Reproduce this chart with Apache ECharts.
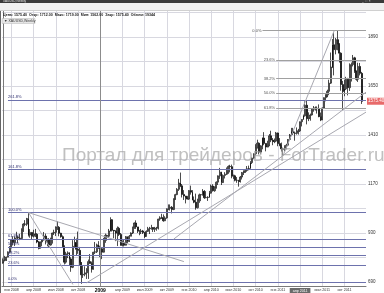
<!DOCTYPE html>
<html><head><meta charset="utf-8">
<script src="https://cdn.jsdelivr.net/npm/echarts@6/dist/echarts.min.js"></script>
<style>html,body{margin:0;padding:0;background:#fff;overflow:hidden}#c{width:384px;height:293px}</style>
</head><body><div id="c"></div><script>
// Weekly XAUUSD candles, week of 3 Dec 2007 .. 12 Dec 2011: [open, close, low, high]
const candles = [
[783,796,780,806],[796,797,791,818],[797,812,793,814],[812,836,811,840],[836,859,833,866],
[859,897,855,898],[897,883,869,914],[883,906,866,914],[906,908,902,936],[908,905,880,917],[905,903,895,926],[903,946,900,953],[946,974,935,978],
[974,973,963,993],[973,1001,965,1004],[1001,920,913,1033],[920,933,907,949],[933,914,900,934],[914,924,908,946],[924,924,910,950],[924,886,880,929],[886,855,850,891],
[855,886,855,888],[886,896,865,899],[896,915,893,935],[915,887,874,927],[887,898,865,903],[898,871,860,905],[871,903,868,907],[903,930,878,932],[930,933,920,946],
[933,960,915,962],[960,958,945,988],[958,929,914,964],[929,912,907,931],[912,864,860,918],[864,787,776,870],[787,828,780,838],[828,833,807,840],
[833,803,773,836],[803,762,740,811],[762,865,758,895],[865,883,860,912],[883,850,820,903],[850,845,828,937],[845,785,772,862],[785,725,681,788],[725,728,710,770],
[728,735,718,767],[735,750,705,758],[750,790,705,800],[790,780,780,827],[780,753,736,790],[753,836,750,838],[836,838,827,886],[838,872,832,878],[872,860,852,890],
[860,853,812,868],[853,836,802,856],[836,898,834,906],[898,918,882,927],[918,914,892,922],[914,940,907,950],[940,995,937,1007],[995,943,937,998],
[943,940,904,945],[940,930,890,943],[930,953,866,962],[953,923,915,960],[923,870,868,930],[870,882,865,893],[882,870,864,899],[870,912,869,915],[912,888,880,913],
[888,914,886,920],[914,930,914,933],[930,958,925,961],[958,979,950,982],[979,960,950,992],[960,939,930,960],[939,936,919,945],[936,940,925,950],[940,932,925,945],
[932,913,905,934],[913,938,913,943],[938,951,935,960],[951,954,925,960],[954,957,946,970],[957,948,935,958],[948,954,935,960],[954,955,941,960],
[955,998,947,1000],[998,1005,990,1012],[1005,1004,999,1024],[1004,990,985,1021],[990,1004,988,1012],[1004,1049,1000,1050],[1049,1051,1042,1070],[1051,1056,1040,1070],[1056,1045,1026,1062],
[1045,1096,1042,1100],[1096,1118,1092,1122],[1118,1144,1115,1150],[1144,1175,1136,1195],[1175,1161,1155,1226],[1161,1119,1104,1170],[1119,1111,1092,1140],[1111,1104,1075,1112],[1104,1096,1094,1112],
[1096,1138,1092,1140],[1138,1130,1118,1162],[1130,1091,1090,1140],[1091,1081,1076,1109],[1081,1054,1044,1123],[1054,1090,1050,1098],[1090,1117,1078,1123],[1117,1118,1086,1120],
[1118,1134,1113,1145],[1134,1103,1097,1140],[1103,1104,1100,1135],[1104,1105,1087,1110],[1105,1125,1103,1136],[1125,1160,1123,1167],[1160,1137,1133,1169],[1137,1156,1132,1158],[1156,1179,1147,1183],
[1179,1210,1165,1212],[1210,1228,1195,1249],[1228,1177,1165,1230],[1177,1212,1175,1217],[1212,1218,1197,1228],[1218,1227,1214,1251],[1227,1256,1220,1261],[1256,1255,1227,1264],[1255,1208,1198,1265],
[1208,1210,1195,1216],[1210,1188,1183,1215],[1188,1188,1176,1204],[1188,1182,1157,1190],[1182,1204,1177,1209],[1204,1226,1192,1229],[1226,1228,1214,1237],[1228,1236,1225,1244],
[1236,1245,1230,1258],[1245,1246,1237,1260],[1246,1275,1245,1282],[1275,1297,1268,1300],[1297,1318,1294,1320],[1318,1345,1310,1365],[1345,1370,1345,1387],[1370,1326,1315,1374],[1326,1357,1318,1360],
[1357,1395,1340,1398],[1395,1369,1360,1424],[1369,1351,1330,1370],[1351,1362,1350,1382],[1362,1406,1355,1415],[1406,1385,1375,1431],[1385,1378,1360,1395],[1378,1380,1370,1393],[1380,1420,1375,1425],
[1420,1368,1355,1422],[1368,1360,1355,1395],[1360,1342,1329,1373],[1342,1340,1308,1348],[1340,1348,1330,1360],[1348,1360,1340,1367],[1360,1388,1355,1390],[1388,1410,1385,1415],
[1410,1428,1405,1445],[1428,1420,1410,1445],[1420,1418,1382,1427],[1418,1429,1412,1447],[1429,1430,1412,1440],[1430,1475,1425,1476],[1475,1486,1452,1487],[1486,1504,1485,1510],[1504,1556,1500,1575],
[1556,1490,1462,1577],[1490,1492,1478,1521],[1492,1508,1480,1515],[1508,1536,1505,1539],[1536,1542,1524,1552],[1542,1541,1530,1550],[1541,1539,1515,1550],[1539,1500,1497,1560],[1500,1484,1478,1520],
[1484,1542,1483,1545],[1542,1593,1540,1594],[1593,1601,1575,1610],[1601,1624,1595,1632],[1624,1664,1605,1681],[1664,1743,1660,1814],[1743,1852,1738,1880],[1852,1828,1702,1911],[1828,1877,1805,1885],
[1877,1855,1825,1921],[1855,1811,1765,1860],[1811,1657,1627,1815],[1657,1623,1532,1675],[1623,1636,1600,1681],[1636,1683,1630,1695],[1683,1642,1604,1690],[1642,1747,1626,1761],[1747,1755,1672,1765],
[1755,1788,1746,1802],[1788,1724,1714,1793],[1724,1683,1676,1726],[1683,1746,1670,1764],[1746,1712,1702,1763],[1712,1575,1562,1719]
];
const priceGrid = [690,810,930,1050,1170,1290,1410,1530,1650,1770,1890,2010];
const priceLabels = [690,930,1170,1410,1650,1890];
const timeTicks = [5,18,31,44,57,70,83,96,109,122,135,148,161,174,187,200];
const timeLabels = ['янв 2008','апр 2008','июл 2008','окт 2008','2009','апр 2009','июл 2009','окт 2009','янв 2010','апр 2010','июл 2010','окт 2010','янв 2011','апр 2011','июл 2011','окт 2011'];
const yearSeparator = 57;
const lastPrice = 1575.40;
// Fibonacci expansion drawn on the left (0% .. 261.8%)
const leftFibLevels = [690,770,820,860,900,1030,1240,1580];
const leftFibNames = ['0.0%','23.6%','38.2%','50.0%','61.8%','100.0%','161.8%','261.8%'];
// Fibonacci retracement on the 2011 rally
const rightFibLevels = [1921,1776,1687,1614,1542];
const rightFibNames = ['0.0%','23.6%','38.2%','50.0%','61.8%'];
const rightFibStart = [152,160,160,160,160];
// trend lines [index1, price1, index2, price2]
const trendLines = [
  [15,1030, 106,790],
  [15,1030, 41,678],
  [49,686, 212.6,1522],
  [100,900, 212.6,1620],
  [164,1308, 194,1921]
];

const XMIN = -0.5, XMAX = 212.6;
const YMIN = 670.4, YMAX = 2017.4;

const chart = echarts.init(document.getElementById('c'), null, {renderer:'canvas'});
const FONT = 'Liberation Sans, Arial, sans-serif';
const CLEAR = 'rgba(0,0,0,0)';

const fibLeftData = leftFibLevels.map((v,k)=>[
  {coord:[3,v], label:{show:true, formatter:leftFibNames[k], position:'insideStartTop', distance:[0,1], fontSize:4, color:'#303070', fontFamily:FONT}},
  {coord:[XMAX,v]}
]);
const fibRightData = rightFibLevels.map((v,k)=>[
  {coord:[rightFibStart[k],v], label:{show:true, formatter:rightFibNames[k], position:'start', distance:1, fontSize:4, color:'#555', fontFamily:FONT}},
  {coord:[XMAX,v]}
]);
const trendData = trendLines.map(t=>[{coord:[t[0],t[1]]},{coord:[t[2],t[3]]}]);

const option = {
  animation:false,
  backgroundColor:'#ffffff',
  grid:{left:2, right:18, top:11, bottom:7, containLabel:false},
  xAxis:{type:'value', min:XMIN, max:XMAX,
    axisLine:{show:true, onZero:false, lineStyle:{color:'#7a7a7a', width:1}},
    axisTick:{show:false, customValues:timeTicks},
    splitLine:{show:true, lineStyle:{color:'#d8d8e0', width:1}},
    axisLabel:{customValues:timeTicks, fontSize:3.6, color:'#333', margin:2, fontFamily:FONT,
      formatter:(v)=>{const k=timeTicks.indexOf(Math.round(v)); if(k<0) return ''; if(k===4) return '{b|'+timeLabels[k]+'}'; if(k===13) return '{h|'+timeLabels[k]+'}'; return timeLabels[k];},
      rich:{b:{fontWeight:'bold', fontSize:5, color:'#000', fontFamily:FONT}, h:{fontSize:3.6, color:'#fff', backgroundColor:'#6a6a6a', padding:[0.5,3], fontFamily:FONT}}}
  },
  yAxis:{type:'value', position:'right', min:YMIN, max:YMAX, scale:true,
    axisLine:{show:true, lineStyle:{color:'#7a7a7a', width:1}},
    axisTick:{show:false, customValues:priceGrid},
    splitLine:{show:true, lineStyle:{color:'#d8d8e0', width:1}},
    axisLabel:{customValues:priceLabels, fontSize:4.5, color:'#333', margin:2, fontFamily:FONT, formatter:(v)=>String(v)}
  },
  series:[
    {type:'candlestick', data:candles.map((c,i)=>[i,c[0],c[1],c[2],c[3]]),
     encode:{x:0, y:[1,2,3,4]}, barWidth:1.4, z:3,
     itemStyle:{color:'#ffffff', color0:'#000000', borderColor:'#000000', borderColor0:'#000000', borderWidth:0.7},
     markLine:{silent:true, symbol:'none', animation:false,
       lineStyle:{color:'#6d72ad', width:1, type:'solid'},
       data:fibLeftData
     }
    },
    {type:'line', data:[], z:1, markLine:{silent:true, symbol:'none', animation:false, lineStyle:{color:'#8c8c8c', width:1, type:'solid'}, label:{show:false}, data:[{xAxis:yearSeparator}]}},
    {type:'line', data:[], markLine:{silent:true, symbol:'none', animation:false, lineStyle:{color:'#a0a0a0', width:1, type:'solid'}, label:{show:false}, data:fibRightData}},
    {type:'line', data:[], markLine:{silent:true, symbol:'none', animation:false, lineStyle:{color:'#a8a8b0', width:1, type:'solid'}, label:{show:false}, data:trendData}},
    {type:'line', data:[], markLine:{silent:true, symbol:'none', animation:false, lineStyle:{color:CLEAR, width:0},
      data:[{yAxis:lastPrice, label:{show:true, position:'end', distance:1, formatter:lastPrice.toFixed(2), backgroundColor:'#e86a6a', color:'#ffffff', fontSize:4.5, padding:[1,1], fontFamily:FONT}}]}}
  ],
  graphic:[
    {type:'rect', shape:{x:0,y:0,width:384,height:3}, style:{fill:'#3a3a3a'}, z:100},
    {type:'text', x:3, y:0, style:{text:'XAUUSD,Weekly', fontSize:3, fill:'#e0e0e0', fontFamily:FONT}, z:101},
    {type:'text', x:362, y:0, style:{text:'_  □  ×', fontSize:3, fill:'#e0e0e0', fontFamily:FONT}, z:101},
    {type:'rect', shape:{x:0,y:3,width:384,height:8}, style:{fill:'#f0f0f0'}, z:100},
    {type:'rect', shape:{x:0,y:10.5,width:384,height:0.5}, style:{fill:'#b0b0b0'}, z:100},
    {type:'group', z:101, children:[
      {type:'rect', shape:{x:3,y:5,width:4,height:4}, style:{fill:'none', stroke:'#777', lineWidth:0.6}},
      {type:'rect', shape:{x:10,y:5,width:4,height:4}, style:{fill:'none', stroke:'#777', lineWidth:0.6}},
      {type:'circle', shape:{cx:19,cy:7,r:2}, style:{fill:'none', stroke:'#777', lineWidth:0.6}},
      {type:'rect', shape:{x:24,y:6,width:1,height:3}, style:{fill:'#bbb'}},
      {type:'rect', shape:{x:36,y:5,width:3,height:4}, style:{fill:'#d8c070'}},
      {type:'rect', shape:{x:42,y:5,width:3,height:4}, style:{fill:'#999'}},
      {type:'rect', shape:{x:50,y:5,width:4,height:4}, style:{fill:'none', stroke:'#666', lineWidth:0.6}},
      {type:'rect', shape:{x:57,y:5,width:3,height:4}, style:{fill:'#444'}},
      {type:'rect', shape:{x:66,y:5,width:4,height:4}, style:{fill:'none', stroke:'#777', lineWidth:0.6}},
      {type:'circle', shape:{cx:77,cy:7,r:2}, style:{fill:'none', stroke:'#777', lineWidth:0.6}},
      {type:'circle', shape:{cx:86,cy:7,r:2}, style:{fill:'#bbb'}},
      {type:'rect', shape:{x:376,y:4.5,width:5,height:5}, style:{fill:'#ddd', stroke:'#888', lineWidth:0.5}}
    ]},
    {type:'rect', shape:{x:0,y:11,width:1,height:282}, style:{fill:'#666'}, z:100},
    {type:'text', x:3, y:13, style:{text:'Цена: 1575.40  Откр: 1712.00  Макс: 1719.00  Мин: 1562.00  Закр: 1575.40  Объем: 19344', fontSize:3.6, fontWeight:'bold', fill:'#222', fontFamily:FONT}, z:101},
    {type:'rect', shape:{x:2,y:18.5,width:33,height:5}, style:{fill:'#e6e6e6', stroke:'#b8b8b8', lineWidth:0.5}, z:101},
    {type:'text', x:4, y:19.3, style:{text:'▼ XAUUSD,Weekly', fontSize:3.5, fill:'#333', fontFamily:FONT}, z:102},
    {type:'text', x:62, y:146, style:{text:'Портал для трейдеров - ForTrader.ru', fontSize:19, fill:'rgba(165,165,165,0.7)', fontFamily:FONT}, z:90}
  ]
};
chart.setOption(option);
</script></body></html>
